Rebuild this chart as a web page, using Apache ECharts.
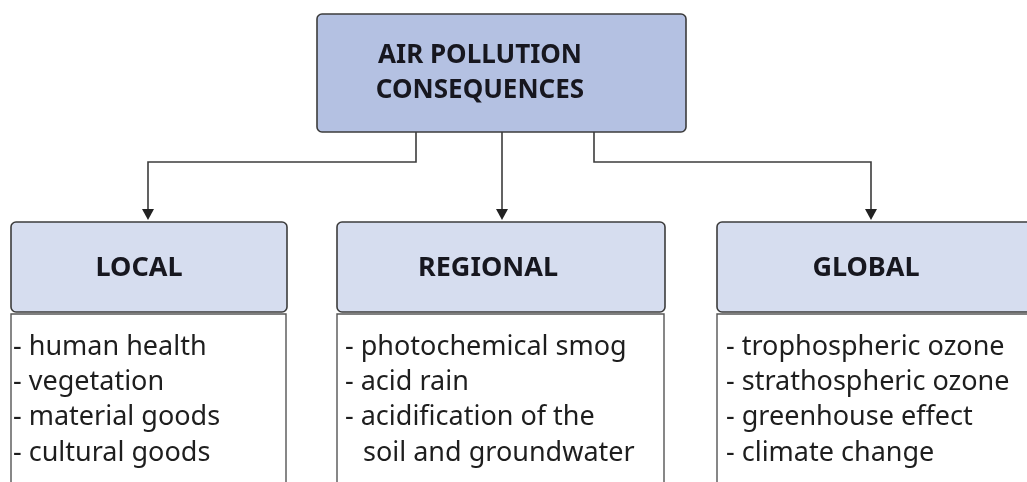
<!DOCTYPE html>
<html>
<head>
<meta charset="utf-8">
<script src="https://cdn.jsdelivr.net/npm/echarts@6/dist/echarts.min.js"></script>
<style>
html, body { margin: 0; padding: 0; background: #fff; }
#chart { width: 1027px; height: 482px; }
</style>
</head>
<body>
<div id="chart"></div>
<script>
// diagram content
var titleLines = ['AIR POLLUTION', 'CONSEQUENCES'];
var scales = ['LOCAL', 'REGIONAL', 'GLOBAL'];
var localItems = ['human health', 'vegetation', 'material goods', 'cultural goods'];
var regionalItems = ['photochemical smog', 'acid rain', ['acidification of the', 'soil and groundwater']];
var globalItems = ['trophospheric ozone', 'strathospheric ozone', 'greenhouse effect', 'climate change'];
var itemLists = [localItems, regionalItems, globalItems];

var FONT = '"Noto Sans", "Open Sans", sans-serif';
var STROKE = '#3c3c3c';

// layout of the three columns
var cols = [
	{ x: 11, w: 276, stemX: 416, arrowX: 148, headX: 139, textX: 13 },
	{ x: 337, w: 328, stemX: 502, arrowX: 502, headX: 488, textX: 345 },
	{ x: 717, w: 330, stemX: 594, arrowX: 871, headX: 866, textX: 726 }
];
var topBox = { x: 317, y: 14, w: 369, h: 118 };
var elbowY = 162, tipY = 220;
var headY = 222, headH = 90;
var listY = 314, lineGap = 35.3, firstLine = 347;

var elements = [];

// top box
elements.push({
	type: 'rect',
	shape: { x: topBox.x, y: topBox.y, width: topBox.w, height: topBox.h, r: 5 },
	style: { fill: '#b4c1e2', stroke: STROKE, lineWidth: 1.6 }
});
titleLines.forEach(function(t, i) {
	elements.push({
		type: 'text',
		style: {
			text: t, x: 480, y: 56 + i * 35,
			fontSize: 26, fontWeight: 'bold', fontFamily: FONT, fill: '#17171f',
			align: 'center', verticalAlign: 'middle',
			textAlign: 'center', textVerticalAlign: 'middle'
		}
	});
});

cols.forEach(function(c, i) {
	// connector
	var pts = c.stemX === c.arrowX
		? [[c.stemX, topBox.y + topBox.h], [c.arrowX, tipY - 8]]
		: [[c.stemX, topBox.y + topBox.h], [c.stemX, elbowY], [c.arrowX, elbowY], [c.arrowX, tipY - 8]];
	elements.push({
		type: 'polyline',
		shape: { points: pts },
		style: { stroke: STROKE, lineWidth: 1.6, fill: null }
	});
	elements.push({
		type: 'polygon',
		shape: { points: [[c.arrowX - 6, tipY - 11], [c.arrowX + 6, tipY - 11], [c.arrowX, tipY]] },
		style: { fill: '#222' }
	});

	// header box
	elements.push({
		type: 'rect',
		shape: { x: c.x, y: headY, width: c.w, height: headH, r: 5 },
		style: { fill: '#d6ddef', stroke: STROKE, lineWidth: 1.6 }
	});
	elements.push({
		type: 'text',
		style: {
			text: scales[i], x: c.headX, y: 268,
			fontSize: 27, fontWeight: 'bold', fontFamily: FONT, fill: '#17171f',
			align: 'center', verticalAlign: 'middle',
			textAlign: 'center', textVerticalAlign: 'middle'
		}
	});

	// list box
	elements.push({
		type: 'rect',
		shape: { x: c.x, y: listY, width: c.w - 1, height: 200 },
		style: { fill: '#fff', stroke: '#555', lineWidth: 1.4 }
	});
	var line = 0;
	itemLists[i].forEach(function(item) {
		var parts = [].concat(item);
		parts.forEach(function(p, k) {
			elements.push({
				type: 'text',
				style: {
					text: k === 0 ? '- ' + p : p,
					x: k === 0 ? c.textX : c.textX + 18,
					y: firstLine + line * lineGap,
					fontSize: 27, fontFamily: FONT, fill: '#1e1e1e',
					align: 'left', verticalAlign: 'middle',
					textAlign: 'left', textVerticalAlign: 'middle'
				}
			});
			line++;
		});
	});
});

var chart = echarts.init(document.getElementById('chart'));
chart.setOption({
	animation: false,
	backgroundColor: '#fff',
	graphic: { elements: elements }
});
</script>
</body>
</html>
